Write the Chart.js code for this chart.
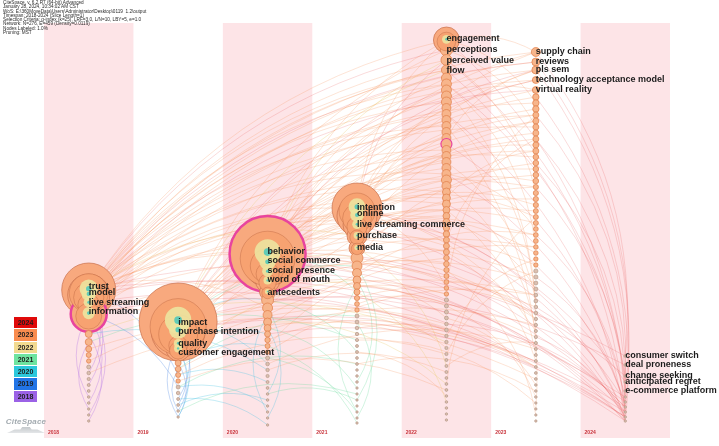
<!DOCTYPE html>
<html>
<head>
<meta charset="utf-8">
<script src="https://cdn.jsdelivr.net/npm/chart.js@4.4.1/dist/chart.umd.min.js"></script>
<style>
  body { margin: 0; background: #fff; }
  #wrap { position: relative; width: 719px; height: 446px; overflow: hidden; }
  #info { position: absolute; left: 3px; top: 1px; font: 4.7px Arial, sans-serif; line-height: 4.3px; color: #2a2a2a; white-space: pre; }
  #years { position: absolute; left: 14px; top: 317px; width: 23px; }
  #years div { height: 11.3px; margin-bottom: 1px; font: bold 7px Arial, sans-serif; line-height: 11.3px; text-align: center; color: #1e1e1e; }
  #logo { position: absolute; left: 5px; top: 417px; width: 42px; }
  #logo span { display: block; font: italic bold 8px Arial, sans-serif; color: #a3abb0; text-align: center; letter-spacing: 0.2px; }
  #logo i { display: block; height: 6px; margin: 1px 2px 0; background: linear-gradient(#c4c9cc, #e4e6e8); clip-path: polygon(0 100%, 20% 40%, 35% 40%, 40% 0, 60% 0, 65% 40%, 80% 40%, 100% 100%); }
</style>
</head>
<body>
<div id="wrap">
  <canvas id="timezone"></canvas>
  <div id="info"></div>
  <div id="years"></div>
  <div id="logo"><span>CiteSpace</span><i></i></div>
</div>
<script>
const headerLines = [
  'CiteSpace, v. 6.2.R7 (64-bit) Advanced',
  'January 28, 2024, 10:34:02 AM CST',
  'WoS: E:\\360MoveData\\Users\\Administrator\\Desktop\\0119  1.2\\output',
  'Timespan: 2018-2024 (Slice Length=1)',
  'Selection Criteria: g-index (k=25), LRF=3.0, L/N=10, LBY=5, e=1.0',
  'Network: N=276, E=459 (Density=0.0119)',
  'Nodes Labeled: 1.0%',
  'Pruning: MST'
];

const years = [2018, 2019, 2020, 2021, 2022, 2023, 2024];
const yearColors = ['#9b62e6', '#2274e6', '#2cc8dc', '#6ee4a0', '#f2da90', '#f98c4e', '#e00a0a'];
const linkColors = ['rgba(170,100,230,0.45)', 'rgba(70,130,225,0.45)', 'rgba(70,195,225,0.45)',
  'rgba(110,220,160,0.45)', 'rgba(235,205,120,0.5)', 'rgba(246,148,92,0.36)', 'rgba(230,82,82,0.3)'];
const bandYears = [2018, 2020, 2022, 2024];

// node positions (top to bottom) and sizes per time slice
const y2018 = [290, 295, 303, 314, 334, 342, 349, 355, 361, 367, 373, 379, 385, 391, 397, 403, 409, 415, 421];
const r2018 = [27, 21, 15, 18, 3.5, 3.5, 3, 2.5, 2.2, 2, 1.8, 1.6, 1.5, 1.4, 1.3, 1.3, 1.2, 1.2, 1.2];
const y2019 = [322, 331, 344, 349, 363, 369, 375, 381, 387, 393, 399, 405, 411, 417];
const r2019 = [39, 27, 13, 12, 3, 2.8, 2.5, 2.2, 2, 1.8, 1.5, 1.4, 1.3, 1.2];
const y2020 = [254, 263, 272, 281, 292, 300, 308, 315, 322, 328, 334, 340, 346, 352, 358, 364, 370, 376, 382, 388, 394, 400, 406, 412, 418, 425];
const r2020 = [38, 24, 16, 12, 8, 6, 5, 4.5, 4, 3.5, 3, 2.7, 2.5, 2.2, 2, 1.8, 1.7, 1.6, 1.5, 1.4, 1.3, 1.3, 1.2, 1.2, 1.2, 1.2];
const y2021 = [208, 216, 225, 236, 248, 258, 266, 273, 280, 286, 292, 298, 304, 310, 316, 322, 328, 334, 340, 346, 352, 358, 364, 370, 376, 382, 388, 394, 400, 406, 412, 418, 423];
const r2021 = [25, 20, 14, 10, 8, 6, 5, 4.5, 4, 3.5, 3, 2.6, 2.4, 2.2, 2, 1.9, 1.8, 1.7, 1.6, 1.5, 1.5, 1.4, 1.4, 1.3, 1.3, 1.3, 1.2, 1.2, 1.2, 1.2, 1.2, 1.2, 1.2];
const y2022 = [40, 50, 60, 70, 78, 84, 90, 96, 102, 108, 114, 120, 126, 132, 138, 144, 150, 156, 162, 168, 174, 180, 186, 192, 198, 204, 210, 216, 222, 228, 234, 240, 246, 252, 258, 264, 270, 276, 282, 288, 294, 300, 306, 312, 318, 324, 330, 336, 342, 348, 354, 360, 366, 372, 378, 384, 390, 396, 402, 408, 414, 420];
const r2022 = [13, 6, 5.5, 5, 5, 5, 5, 5, 5, 4.5, 4.5, 4.5, 4.5, 4.5, 4.5, 5.5, 4.5, 4.5, 4.5, 4.5, 4.5, 5, 4.5, 4, 4, 4, 3.5, 3.5, 3.5, 3.2, 3.2, 3, 3, 3, 2.8, 2.8, 2.6, 2.5, 2.4, 2.3, 2.2, 2.1, 2, 2, 1.9, 1.8, 1.8, 1.7, 1.7, 1.6, 1.6, 1.5, 1.5, 1.5, 1.4, 1.4, 1.4, 1.3, 1.3, 1.3, 1.2, 1.2];
const y2023 = [52, 62, 70, 80, 90, 97, 103, 109, 115, 121, 127, 133, 139, 145, 151, 157, 163, 169, 175, 181, 187, 193, 199, 205, 211, 217, 223, 229, 235, 241, 247, 253, 259, 265, 271, 277, 283, 289, 295, 301, 307, 313, 319, 325, 331, 337, 343, 349, 355, 361, 367, 373, 379, 385, 391, 397, 403, 409, 415, 421];
const r2023 = [4.5, 4, 4, 3.5, 3.5, 3.2, 3.2, 3.2, 3, 3, 3, 3, 3, 3, 3, 2.8, 2.8, 2.8, 2.8, 2.8, 2.6, 2.6, 2.6, 2.6, 2.5, 2.5, 2.5, 2.4, 2.4, 2.4, 2.3, 2.3, 2.2, 2.2, 2.1, 2.1, 2, 2, 1.9, 1.9, 1.8, 1.8, 1.7, 1.7, 1.6, 1.6, 1.6, 1.5, 1.5, 1.5, 1.4, 1.4, 1.4, 1.3, 1.3, 1.3, 1.2, 1.2, 1.2, 1.2];
const y2024 = [356, 365, 376, 382, 391, 397, 402, 407, 412, 417, 421];
const r2024 = [1.4, 1.4, 1.3, 1.3, 1.3, 1.2, 1.2, 1.2, 1.2, 1.2, 1.2];
const colY = [y2018, y2019, y2020, y2021, y2022, y2023, y2024];
const colR = [r2018, r2019, r2020, r2021, r2022, r2023, r2024];
// citation bursts (magenta rings): [slice, node]
const bursts = [[0, 3], [2, 0], [4, 15]];

const keywords = ['trust', 'model', 'live streaming', 'information',
  'impact', 'purchase intention', 'quality', 'customer engagement',
  'behavior', 'social commerce', 'social presence', 'word of mouth', 'antecedents',
  'intention', 'online', 'live streaming commerce', 'purchase', 'media',
  'engagement', 'perceptions', 'perceived value', 'flow',
  'supply chain', 'reviews', 'pls sem', 'technology acceptance model', 'virtual reality',
  'consumer switch', 'deal proneness', 'change seeking', 'anticipated regret', 'e-commerce platform'];
const keywordYear = [2018, 2018, 2018, 2018, 2019, 2019, 2019, 2019, 2020, 2020, 2020, 2020, 2020,
  2021, 2021, 2021, 2021, 2021, 2022, 2022, 2022, 2022, 2023, 2023, 2023, 2023, 2023,
  2024, 2024, 2024, 2024, 2024];
const keywordPos = [287, 293, 303, 312, 323, 332, 344, 353, 252, 261, 271, 280, 293,
  208, 214, 225, 236, 248, 39, 50, 61, 71, 52, 62, 70, 80, 90,
  356, 365, 376, 382, 391];

// co-occurrence links [slice, node, slice, node], grouped by year of link
const links2018 = [[0,3,0,15],[0,0,0,12],[0,4,0,18],[0,16,0,5],[0,14,0,3],[0,2,0,17],[0,1,0,10]];
const links2019 = [[1,0,1,10],[1,1,1,12],[1,4,1,13],[0,3,1,8],[0,0,1,6],[1,3,1,11],[1,12,1,5],[1,13,1,2]];
const links2020 = [[1,0,2,5],[1,4,2,12],[1,6,2,18],[1,8,2,22],[1,0,2,15],[2,6,2,20],[2,9,2,24],[1,2,2,10],
  [0,4,2,16],[1,10,2,25],[1,3,1,13],[2,23,2,7],[1,11,2,21]];
const links2021 = [[1,0,3,6],[1,5,3,14],[2,5,3,20],[2,9,3,26],[2,14,3,30],[3,8,3,25],[3,15,3,31],[2,0,3,10],
  [1,8,3,22],[2,20,3,28],[0,5,3,18],[3,6,3,28],[3,30,3,9],[2,12,3,32],[1,12,3,27]];
const links2022 = [[0,0,3,3],[1,0,4,3],[2,0,4,2],[2,2,3,5],[1,4,3,8],[0,4,4,48],[2,8,4,55],[3,10,4,58],[3,4,4,52]];
const links2023 = [[0,0,4,0],[0,0,4,5],[0,0,4,12],[0,0,4,20],[0,0,4,30],[0,0,5,0],[0,0,5,3],[0,0,5,10],[0,0,5,20],[0,0,5,35],
  [0,1,4,2],[0,1,4,8],[0,1,4,16],[0,1,5,1],[0,1,5,6],[0,1,5,15],[0,1,5,28],
  [0,2,4,3],[0,2,4,25],[0,2,5,2],[0,2,5,40],[0,2,3,0],[0,2,2,0],
  [0,3,4,10],[0,3,5,8],[0,3,5,45],[0,3,3,1],[0,3,1,0],
  [1,0,4,1],[1,0,4,7],[1,0,4,18],[1,0,4,40],[1,0,5,4],[1,0,5,12],[1,0,5,30],[1,0,5,50],[1,0,3,0],[1,0,2,1],
  [1,1,4,14],[1,1,5,9],[1,1,5,22],[1,1,4,35],[1,1,3,2],[1,2,4,22],[1,2,5,38],[1,3,5,18],[1,3,4,45],
  [2,0,4,0],[2,0,4,4],[2,0,4,11],[2,0,4,24],[2,0,5,0],[2,0,5,5],[2,0,5,14],[2,0,5,26],[2,0,5,42],[2,0,3,0],
  [2,1,4,6],[2,1,4,19],[2,1,5,3],[2,1,5,17],[2,1,5,33],[2,2,4,28],[2,2,5,11],[2,3,5,24],[2,3,4,38],
  [2,4,5,36],[2,5,4,15],[2,6,5,20],
  [3,0,4,0],[3,0,4,9],[3,0,4,17],[3,0,5,0],[3,0,5,7],[3,0,5,13],[3,0,5,25],[3,0,5,44],
  [3,1,4,13],[3,1,5,2],[3,1,5,19],[3,2,4,21],[3,2,5,31],[3,3,5,9],[3,4,4,27],[3,5,5,16],[3,6,4,33],
  [4,0,5,0],[4,0,5,6],[4,1,5,10],[4,2,5,21],[4,5,5,30],[4,8,5,4],[4,10,5,40],[4,14,5,2],[4,20,5,27],
  [4,26,5,48],[4,31,5,12],[4,40,5,8],[4,44,5,53],[4,50,5,34],[4,12,5,57],[4,6,5,45],[4,18,5,39],
  [2,12,4,34],[3,12,4,42],[1,6,4,50],[0,6,5,52],[2,15,5,47],[3,18,5,56],[4,36,5,58],[4,55,5,25],
  [2,7,4,40],[2,9,5,30],[2,11,4,47],[2,13,5,38],[2,16,4,53],[3,7,5,28],[3,9,4,44],[3,11,5,41],
  [3,14,4,49],[3,16,5,50],[3,20,4,57],[3,22,5,54],[4,22,5,44],[4,28,5,37],[4,33,5,49],[4,38,5,42],
  [4,42,5,55],[4,47,5,32],[4,52,5,46],[4,24,5,14],[1,5,5,43],[1,7,4,56],[0,8,4,46],[0,10,5,49],
  [0,0,3,7],[0,0,2,6],[1,0,3,5],[0,0,4,3],[0,1,4,23],[0,3,4,29],[1,0,4,26],[2,0,4,32],[3,0,4,39],
  [2,1,5,8],[3,1,5,23]];
const links2024 = [[0,0,6,0],[0,1,6,5],[0,3,6,8],[1,0,6,1],[1,1,6,9],[2,0,6,2],[2,0,6,7],[2,1,6,10],
  [3,0,6,3],[3,0,6,6],[3,2,6,9],[4,0,6,4],[4,3,6,8],[4,10,6,10],[4,15,6,5],[4,30,6,9],
  [5,0,6,0],[5,2,6,7],[5,5,6,10],[5,12,6,6],[5,20,6,9],[5,35,6,8],[5,45,6,10],[4,45,6,7],
  [2,10,6,9],[0,2,6,10],[5,1,6,4],[4,2,6,3],
  [0,0,4,1],[0,0,5,1],[2,0,5,2],[1,0,5,3],[3,0,4,2],[0,1,5,4],[1,0,4,6],
  [3,5,6,8],[3,9,6,10],[2,5,6,6],[4,20,6,7],[4,35,6,9],[5,8,6,3],[5,16,6,5],[5,28,6,8],[5,40,6,10],
  [4,5,6,2],[1,1,6,7],[0,0,6,9],[2,2,6,8],[4,25,6,6]];
const linkGroups = [links2018, links2019, links2020, links2021, links2022, links2023, links2024];

document.getElementById('info').textContent = headerLines.join('\n');
const yearBox = document.getElementById('years');
for (let k = years.length - 1; k >= 0; k--) {
  const d = document.createElement('div');
  d.style.background = yearColors[k];
  d.textContent = years[k];
  yearBox.appendChild(d);
}

function isBurst(c, i) {
  return bursts.some(b => b[0] === c && b[1] === i);
}

const nodes = [];
colY.forEach((ys, c) => {
  ys.forEach((y, i) => {
    nodes.push({ x: years[c], y: y, r: colR[c][i], burst: isBurst(c, i) });
  });
});
const bigNodes = nodes.filter(n => n.r >= 8);

const outerLayer = {
  order: 4,
  data: nodes.map(n => ({ x: n.x, y: n.y, r: n.r })),
  backgroundColor: nodes.map(n => n.r >= 8 ? '#f8a97e' : n.r >= 2.2 ? '#f7b58b' : '#dcc0b0'),
  borderColor: nodes.map(n => n.burst ? '#e8449e' : n.r >= 8 ? '#c8704c' : n.r >= 2.2 ? '#e07c48' : '#b59888'),
  borderWidth: nodes.map(n => n.burst ? (n.r > 10 ? 2.5 : 1.2) : 0.7)
};
const midLayer = {
  order: 3,
  data: bigNodes.map(n => ({ x: n.x, y: n.y + n.r * 0.12, r: n.r * 0.72 })),
  backgroundColor: '#f7a271',
  borderColor: 'rgba(180,92,56,0.6)',
  borderWidth: 0.6
};
const innerLayer = {
  order: 2,
  data: bigNodes.map(n => ({ x: n.x, y: n.y - n.r * 0.05, r: n.r * 0.34 })),
  backgroundColor: 'rgba(236,228,160,0.9)',
  borderWidth: 0
};
const coreLayer = {
  order: 1,
  data: bigNodes.map(n => ({ x: n.x, y: n.y - n.r * 0.05, r: n.r * 0.1 })),
  backgroundColor: 'rgba(63,198,190,0.8)',
  borderWidth: 0
};

function nodePixel(chart, c, i) {
  return [chart.scales.x.getPixelForValue(years[c]), chart.scales.y.getPixelForValue(colY[c][i])];
}

const timezonePlugin = {
  id: 'timezone',
  beforeDraw(chart) {
    const ctx = chart.ctx, xs = chart.scales.x, ys = chart.scales.y;
    ctx.save();
    ctx.fillStyle = '#fde4e7';
    bandYears.forEach(yr => {
      const left = xs.getPixelForValue(yr - 0.5), right = xs.getPixelForValue(yr + 0.5);
      const top = ys.getPixelForValue(23), bottom = ys.getPixelForValue(438);
      ctx.fillRect(left, top, right - left, bottom - top);
    });
    ctx.restore();
  },
  beforeDatasetsDraw(chart) {
    const ctx = chart.ctx;
    ctx.save();
    ctx.lineWidth = 0.7;
    linkGroups.forEach((group, k) => {
      ctx.strokeStyle = linkColors[k];
      group.forEach(l => {
        const [x1, y1] = nodePixel(chart, l[0], l[1]);
        const [x2, y2] = nodePixel(chart, l[2], l[3]);
        // same-slice links loop wider, cross-slice links arc gently
        const bend = l[0] === l[2] ? 0.3 : 0.2;
        const cx = (x1 + x2) / 2 + (y2 - y1) * bend;
        const cy = (y1 + y2) / 2 - (x2 - x1) * bend;
        ctx.beginPath();
        ctx.moveTo(x1, y1);
        ctx.quadraticCurveTo(cx, cy, x2, y2);
        ctx.stroke();
      });
    });
    ctx.restore();
  },
  afterDatasetsDraw(chart) {
    const ctx = chart.ctx, xs = chart.scales.x, ys = chart.scales.y;
    ctx.save();
    ctx.fillStyle = '#1c1c1c';
    ctx.font = 'bold 9px Arial';
    ctx.textBaseline = 'middle';
    keywords.forEach((kw, k) => {
      ctx.fillText(kw, xs.getPixelForValue(keywordYear[k]), ys.getPixelForValue(keywordPos[k]));
    });
    ctx.fillStyle = '#c8323a';
    ctx.font = 'bold 5px Arial';
    years.forEach(yr => {
      ctx.fillText(yr, xs.getPixelForValue(yr - 0.5) + 4, ys.getPixelForValue(433));
    });
    ctx.restore();
  }
};

const chart = new Chart(document.getElementById('timezone'), {
  type: 'bubble',
  data: { datasets: [coreLayer, innerLayer, midLayer, outerLayer] },
  options: {
    responsive: true,
    maintainAspectRatio: false,
    animation: false,
    events: [],
    clip: false,
    layout: { autoPadding: false, padding: { left: 44, right: 49, top: 0, bottom: 0 } },
    scales: {
      x: { type: 'linear', min: 2017.5, max: 2024.5, display: false },
      y: { type: 'linear', min: 0, max: 446, reverse: true, display: false }
    },
    plugins: { legend: { display: false }, tooltip: { enabled: false } }
  },
  plugins: [timezonePlugin]
});
</script>
</body>
</html>
